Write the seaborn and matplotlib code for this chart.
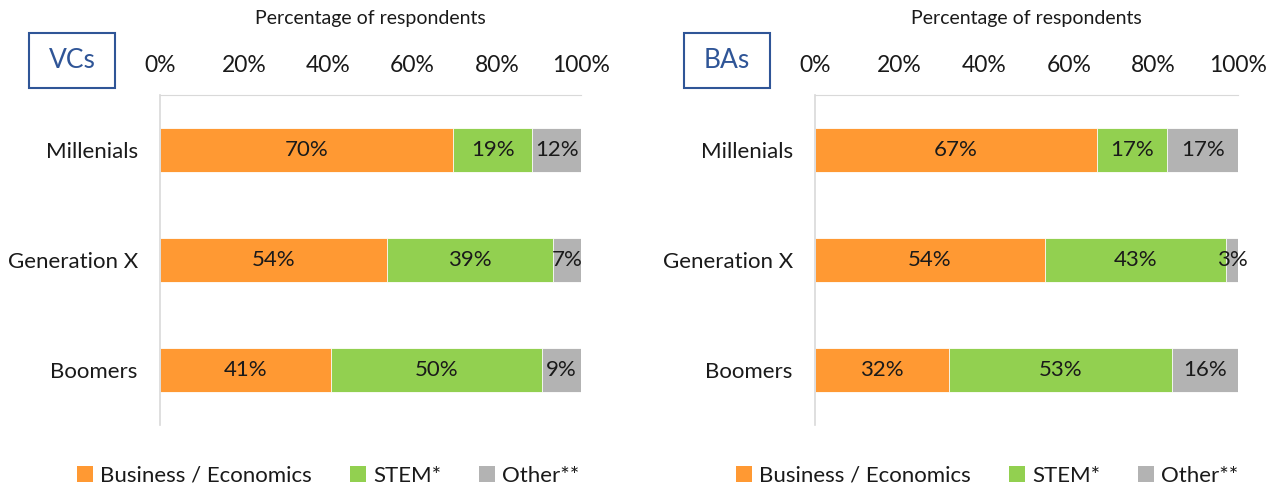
import matplotlib
matplotlib.use("Agg")
import matplotlib.pyplot as plt
import seaborn as sns
import pandas as pd
import numpy as np
from matplotlib.patches import Rectangle, Patch

generations = ["Millenials", "Generation X", "Boomers"]
segments = ["Business / Economics", "STEM*", "Other**"]
vc_business = [69.6, 53.9, 40.6]
vc_stem = [18.8, 39.4, 50.1]
vc_other = [11.6, 6.7, 9.3]
ba_business = [66.6, 54.4, 31.6]
ba_stem = [16.7, 42.8, 52.8]
ba_other = [16.7, 2.8, 15.6]
tick_values = [0, 20, 40, 60, 80, 100]
tick_labels = ["0%", "20%", "40%", "60%", "80%", "100%"]
panel_titles = ["VCs", "BAs"]
axis_label = "Percentage of respondents"

colors = ["#FF9933", "#92D050", "#B3B3B3"]
blue = "#2F5597"
spine_col = "#D9D9D9"
txt = "#1a1a1a"

sns.set_theme(style="white")
plt.rcParams["font.family"] = ["Lato", "DejaVu Sans"]
plt.rcParams["text.color"] = txt
plt.rcParams["axes.labelcolor"] = txt
plt.rcParams["xtick.color"] = txt
plt.rcParams["ytick.color"] = txt

fig = plt.figure(figsize=(12.68, 4.88), dpi=100)
W, H = 1268, 488


def draw(left_px, right_px, parts, title, legend_cx):
    ax = fig.add_axes([left_px / W, 1 - 425 / H, (right_px - left_px) / W, (425 - 95) / H])
    arr = np.array(parts)
    cum = np.cumsum(arr, axis=0)
    for i in reversed(range(3)):
        df = pd.DataFrame({"gen": generations, "val": cum[i]})
        sns.barplot(data=df, y="gen", x="val", color=colors[i], orient="h",
                    ax=ax, width=0.4, saturation=1, edgecolor="white", linewidth=0.6)
    for i in range(3):
        for j in range(3):
            start = cum[i][j] - arr[i][j]
            ax.text(start + arr[i][j] / 2, j, f"{arr[i][j]:.0f}%", ha="center", va="center",
                    fontsize=16, color=txt)
    ax.set_xlim(0, 100)
    ax.set_ylim(2.5, -0.5)
    ax.xaxis.tick_top()
    ax.xaxis.set_label_position("top")
    ax.set_xticks(tick_values)
    ax.set_xticklabels(tick_labels)
    ax.set_xlabel(axis_label, fontsize=14, labelpad=22)
    ax.set_ylabel("")
    ax.tick_params(axis="x", length=0, pad=14, labelsize=16.5)
    ax.tick_params(axis="y", length=0, pad=16, labelsize=16)
    for s in ["right", "bottom"]:
        ax.spines[s].set_visible(False)
    for s in ["left", "top"]:
        ax.spines[s].set_color(spine_col)
        ax.spines[s].set_linewidth(1.2)
    ax.spines["top"].set_linewidth(0.8)
    # title box
    bx0 = left_px - 131
    fig.patches.append(Rectangle((bx0 / W, 1 - 88 / H), 86 / W, 55 / H,
                                 transform=fig.transFigure, fill=False,
                                 edgecolor=blue, linewidth=1.5))
    fig.text((bx0 + 43) / W, 1 - 61 / H, title, ha="center", va="center",
             fontsize=19, color=blue)
    handles = [Patch(facecolor=c, edgecolor="none") for c in colors]
    fig.legend(handles, segments, loc="center", bbox_to_anchor=(legend_cx / W, 1 - 476 / H),
               ncol=3, frameon=False, handlelength=0.75, handleheight=0.75,
               handletextpad=0.3, columnspacing=1.7, prop={"size": 16})
    return ax


draw(160, 581, [vc_business, vc_stem, vc_other], panel_titles[0], 328)
draw(815, 1238, [ba_business, ba_stem, ba_other], panel_titles[1], 987)

fig.savefig("out.png", dpi=100)
